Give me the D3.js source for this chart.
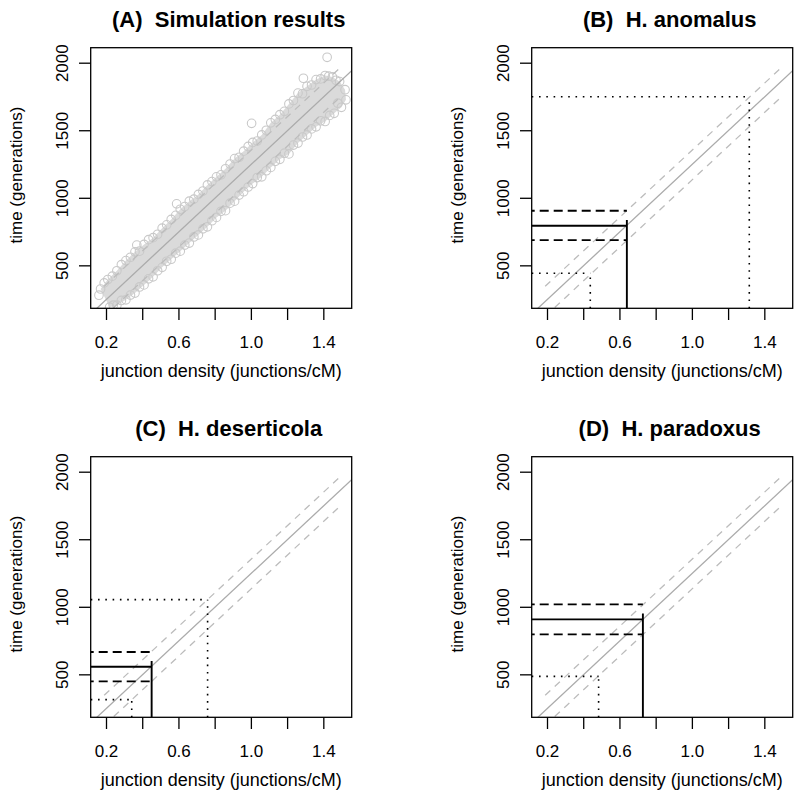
<!DOCTYPE html>
<html><head><meta charset="utf-8">
<script src="https://cdn.jsdelivr.net/npm/d3@7"></script>
<style>
body{margin:0;background:#fff}
svg{display:block}
text{font-family:"Liberation Sans",Arial,Helvetica,sans-serif;fill:#000;white-space:pre}
</style>
</head><body>
<svg id="chart" width="800" height="798"></svg>
<script>
// ---------------- data ----------------
const panelTitles = ["(A)  Simulation results", "(B)  H. anomalus", "(C)  H. deserticola", "(D)  H. paradoxus"];
const xLabel = "junction density (junctions/cM)";
const yLabel = "time (generations)";
const xDomain = [0.1155, 1.5567];
const yDomain = [182, 2111];
const xTicks = [0.2, 0.4, 0.6, 0.8, 1.0, 1.2, 1.4];
const xTickLabels = ["0.2", "", "0.6", "", "1.0", "", "1.4"];
const yTicks = [500, 1000, 1500, 2000];
const yTickLabels = ["500", "1000", "1500", "2000"];

// regression line (solid grey) and interval lines (dashed grey)
const fitJ = [0.0, 2.0];
const fitT = [-5, 2495];
const upperJ = [0.19, 1.487];
const upperT = [345, 1955];
const lowerJ = [0.19, 1.487];
const lowerT = [122, 1738];

// simulation cloud (panel A): points along the edges of the dense band + outliers
const cloudUpperJ = [0.17, 0.21, 0.26, 0.31, 0.36, 0.41, 0.46, 0.51, 0.56, 0.61, 0.66, 0.71, 0.76, 0.81, 0.86, 0.91, 0.96, 1.01, 1.06, 1.11, 1.16, 1.21, 1.26, 1.31, 1.36, 1.41, 1.45, 1.49, 1.52, 1.525];
const cloudUpperT = [325, 395, 460, 535, 600, 655, 705, 775, 840, 915, 975, 1025, 1095, 1155, 1215, 1290, 1345, 1410, 1465, 1555, 1615, 1695, 1775, 1825, 1875, 1905, 1895, 1860, 1800, 1725];
const cloudLowerJ = [1.50, 1.46, 1.41, 1.36, 1.31, 1.26, 1.21, 1.16, 1.11, 1.06, 1.01, 0.96, 0.91, 0.86, 0.81, 0.76, 0.71, 0.66, 0.61, 0.56, 0.51, 0.46, 0.41, 0.36, 0.31, 0.26, 0.22];
const cloudLowerT = [1670, 1625, 1565, 1525, 1465, 1405, 1325, 1285, 1225, 1155, 1105, 1045, 975, 905, 855, 785, 725, 665, 605, 545, 485, 415, 355, 295, 245, 205, 190];
const cloudUpper2J = [0.19, 0.235, 0.285, 0.335, 0.385, 0.435, 0.485, 0.535, 0.585, 0.635, 0.685, 0.735, 0.785, 0.835, 0.885, 0.935, 0.985, 1.035, 1.085, 1.135, 1.185, 1.235, 1.285, 1.335, 1.385, 1.43, 1.47];
const cloudUpper2T = [370, 420, 505, 560, 605, 690, 730, 800, 870, 935, 990, 1050, 1120, 1170, 1250, 1300, 1380, 1420, 1500, 1580, 1640, 1720, 1770, 1835, 1880, 1900, 1870];
const cloudLower2J = [1.48, 1.435, 1.385, 1.335, 1.285, 1.235, 1.185, 1.135, 1.085, 1.035, 0.985, 0.935, 0.885, 0.835, 0.785, 0.735, 0.685, 0.635, 0.585, 0.535, 0.485, 0.435, 0.385, 0.335, 0.285, 0.24];
const cloudLower2T = [1700, 1610, 1570, 1510, 1450, 1390, 1330, 1270, 1200, 1150, 1080, 1020, 960, 900, 830, 770, 710, 650, 590, 530, 460, 400, 340, 280, 240, 205];
const outlierJ = [1.421, 1.004, 0.161, 1.29, 0.59, 0.37];
const outlierT = [2040, 1551, 279, 1885, 955, 650];

// species panels B, C, D
const speciesJ = [0.641, 0.452, 0.7295];
const speciesT = [793, 556, 907];
const speciesVertTop = [835, 598, 950];
const speciesTHi = [904, 665, 1018];
const speciesTLo = [687, 448, 796];
const dottedJ = [[0.439, 1.317], [0.342, 0.761], [0.485]];
const dottedT = [[441, 1748], [313, 1053], [485]];

// ---------------- layout ----------------
const svg = d3.select("#chart");
const plotW = 261, plotH = 260.6;
const colX = [90.7, 531.7], rowY = [47.7, 456.7];
const x = d3.scaleLinear().domain(xDomain).range([0, plotW]);
const y = d3.scaleLinear().domain(yDomain).range([plotH, 0]);

const grey = "#ababab", greyDash = "#bcbcbc";

panelTitles.forEach((title, p) => {
  const g = svg.append("g").attr("transform", `translate(${colX[p % 2]},${rowY[Math.floor(p / 2)]})`);
  const clipId = "clip" + p;
  g.append("clipPath").attr("id", clipId).append("rect").attr("width", plotW).attr("height", plotH);
  const inner = g.append("g").attr("clip-path", `url(#${clipId})`);

  if (p === 0) {
    const pts = cloudUpperJ.map((j, i) => [j, cloudUpperT[i]])
      .concat(cloudLowerJ.map((j, i) => [j, cloudLowerT[i]]));
    inner.append("path")
      .attr("d", d3.line().x(d => x(d[0])).y(d => y(d[1])).curve(d3.curveLinearClosed)(pts))
      .attr("fill", "#dadada");
    const circ = pts
      .concat(cloudUpper2J.map((j, i) => [j, cloudUpper2T[i]]))
      .concat(cloudLower2J.map((j, i) => [j, cloudLower2T[i]]))
      .concat(outlierJ.map((j, i) => [j, outlierT[i]]));
    inner.selectAll("circle.pt").data(circ).enter().append("circle")
      .attr("cx", d => x(d[0])).attr("cy", d => y(d[1])).attr("r", 4.3)
      .attr("fill", "none").attr("stroke", "#c9c9c9").attr("stroke-width", 1.1);
  }

  // grey regression + interval lines
  inner.append("line").attr("x1", x(fitJ[0])).attr("y1", y(fitT[0])).attr("x2", x(fitJ[1])).attr("y2", y(fitT[1]))
    .attr("stroke", grey).attr("stroke-width", 1.3);
  [[upperJ, upperT], [lowerJ, lowerT]].forEach(([jj, tt]) => {
    inner.append("line").attr("x1", x(jj[0])).attr("y1", y(tt[0])).attr("x2", x(jj[1])).attr("y2", y(tt[1]))
      .attr("stroke", greyDash).attr("stroke-width", 1.3).attr("stroke-dasharray", "7,6");
  });

  if (p > 0) {
    const s = p - 1;
    const J = speciesJ[s], T = speciesT[s];
    const seg = (x1, y1, x2, y2, w, dash) => inner.append("line")
      .attr("x1", x1).attr("y1", y1).attr("x2", x2).attr("y2", y2)
      .attr("stroke", "#000").attr("stroke-width", w).attr("stroke-dasharray", dash);
    seg(0, y(T), x(J), y(T), 1.9, null);
    seg(x(J), plotH, x(J), y(speciesVertTop[s]), 1.9, null);
    seg(0, y(speciesTHi[s]), x(J), y(speciesTHi[s]), 1.9, "9,5").attr("stroke-dashoffset", -8);
    seg(0, y(speciesTLo[s]), x(J), y(speciesTLo[s]), 1.9, "9,5").attr("stroke-dashoffset", -8);
    dottedJ[s].forEach((dj, k) => {
      const dt = dottedT[s][k];
      seg(0, y(dt), x(dj), y(dt), 1.6, "1.6,5.7");
      seg(x(dj), plotH, x(dj), y(dt), 1.6, "1.6,5.7");
    });
  }

  // box
  g.append("rect").attr("width", plotW).attr("height", plotH)
    .attr("fill", "none").attr("stroke", "#000").attr("stroke-width", 1.3);

  // x axis
  const xa = g.append("g").attr("transform", `translate(0,${plotH})`)
    .call(d3.axisBottom(x).tickValues(xTicks).tickSize(11.7).tickPadding(16.2)
      .tickFormat((d, i) => xTickLabels[i]));
  xa.select(".domain").remove();
  xa.selectAll("line").attr("stroke-width", 1.3);
  xa.selectAll("text").attr("font-size", 17).attr("font-family", "Liberation Sans, Arial, sans-serif").attr("fill", "#000");

  // y axis
  const ya = g.append("g")
    .call(d3.axisLeft(y).tickValues(yTicks).tickSize(11.7).tickFormat((d, i) => yTickLabels[i]));
  ya.select(".domain").remove();
  ya.selectAll("line").attr("stroke-width", 1.3);
  ya.selectAll("text").attr("x", null).attr("dy", null).attr("text-anchor", "middle")
    .attr("transform", "translate(-22.4,0) rotate(-90)")
    .attr("font-size", 17).attr("font-family", "Liberation Sans, Arial, sans-serif").attr("fill", "#000");

  // labels
  g.append("text").attr("x", plotW / 2).attr("y", plotH + 68.4).attr("text-anchor", "middle")
    .attr("font-size", 18).text(xLabel);
  g.append("text").attr("transform", `translate(${22 - colX[0]},${plotH / 2 - 3}) rotate(-90)`)
    .attr("text-anchor", "middle").attr("font-size", 17).text(yLabel);
  g.append("text").attr("x", plotW / 2 + 7.5).attr("y", -21).attr("text-anchor", "middle")
    .attr("font-size", 22).attr("font-weight", "bold").text(title);
});
</script>
</body></html>
